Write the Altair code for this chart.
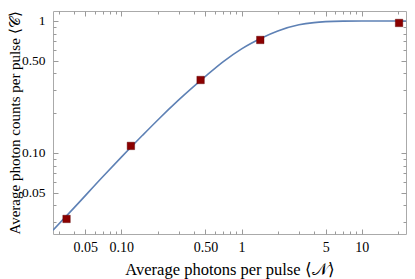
import altair as alt
import pandas as pd

# Measured points
n_pts = [0.035, 0.12, 0.456, 1.43, 20.4]
c_pts = [0.0316, 0.113, 0.357, 0.718, 0.966]

# Fitted curve
n_curve = [0.027, 0.04, 0.07, 0.1, 0.15, 0.2, 0.3, 0.5, 0.7, 1.0, 1.5, 2.0, 3.0, 4.0, 5.0, 7.0, 10.0, 15.0, 23.3]
c_curve = [0.026, 0.038, 0.066, 0.093, 0.136, 0.177, 0.252, 0.38, 0.49, 0.615, 0.75, 0.84, 0.935, 0.972, 0.988, 0.998, 1.0, 1.0, 1.0]

x_major = [0.05, 0.1, 0.5, 1, 5, 10]
x_minor = [0.03, 0.04, 0.06, 0.07, 0.08, 0.09, 0.2, 0.3, 0.4, 0.6, 0.7, 0.8, 0.9,
           2, 3, 4, 6, 7, 8, 9, 20]
y_major = [0.05, 0.1, 0.5, 1]
y_minor = [0.03, 0.04, 0.06, 0.07, 0.08, 0.09, 0.2, 0.3, 0.4, 0.6, 0.7, 0.8, 0.9]

x_domain = [0.027, 23.3]
y_domain = [0.0243, 1.19]

pts = pd.DataFrame({"N": n_pts, "C": c_pts})
curve = pd.DataFrame({"N": n_curve, "C": c_curve})

FONT = "Liberation Serif"
TICK = "#9a9a9a"
W, H = 353, 223

fmt = "datum.value < 1 ? format(datum.value, '.2f') : format(datum.value, 'd')"


def xs(axis):
    return alt.X("N:Q", scale=alt.Scale(type="log", domain=x_domain, nice=False), axis=axis)


def ys(axis):
    return alt.Y("C:Q", scale=alt.Scale(type="log", domain=y_domain, nice=False), axis=axis)


def tick_axis(orient, values, size):
    return alt.Axis(orient=orient, values=values, labels=False, domain=False, grid=False,
                    title=None, tickSize=size, offset=-size, tickColor=TICK, tickWidth=1)


line = alt.Chart(curve).mark_line(color="#5E81B5", strokeWidth=1.6, interpolate="monotone", clip=True).encode(
    x=xs(alt.Axis(orient="bottom", values=x_major, labelExpr=fmt, tickSize=0, domain=False, grid=False,
                  labelFont=FONT, labelFontSize=14, labelColor="black", labelPadding=6,
                  title="Average photons per pulse ⟨𝒩⟩", titleFont=FONT, titleFontSize=16.5,
                  titleFontWeight="normal", titleColor="black", titleBaseline="alphabetic", titleY=40)),
    y=ys(alt.Axis(orient="left", values=y_major, labelExpr=fmt, tickSize=0, domain=False, grid=False,
                  labelFont=FONT, labelFontSize=13.5, labelColor="black", labelPadding=8,
                  title="Average photon counts per pulse ⟨𝒞⟩", titleFont=FONT, titleFontSize=15,
                  titleFontWeight="normal", titleColor="black", titleAngle=-90,
                  titleAlign="center", titleBaseline="bottom", titleX=-31, titleY=H / 2)),
)

points = alt.Chart(pts).mark_point(shape="square", filled=True, size=56, color="#8B0000",
                                   opacity=1, stroke="#5a0000", strokeWidth=0.4).encode(
    x=xs(tick_axis("bottom", x_major, 5)),
    y=ys(tick_axis("left", y_major, 5)),
)

inv1 = alt.Chart(pts).mark_point(opacity=0).encode(
    x=xs(tick_axis("bottom", x_minor, 3)),
    y=ys(tick_axis("left", y_minor, 3)),
)
inv2 = alt.Chart(pts).mark_point(opacity=0).encode(
    x=xs(tick_axis("top", x_major, 5)),
    y=ys(tick_axis("right", y_major, 5)),
)
inv3 = alt.Chart(pts).mark_point(opacity=0).encode(
    x=xs(tick_axis("top", x_minor, 3)),
    y=ys(tick_axis("right", y_minor, 3)),
)

chart = alt.layer(line, points, inv1, inv2, inv3).resolve_axis(
    x="independent", y="independent"
).properties(
    width=W, height=H,
    autosize=alt.AutoSizeParams(type="none"),
    padding={"left": 45, "top": 3, "right": 1, "bottom": 45},
).configure_view(stroke="#aaaaaa", strokeWidth=1)

chart.save("out.html", embed_options={"renderer": "svg", "actions": False})
